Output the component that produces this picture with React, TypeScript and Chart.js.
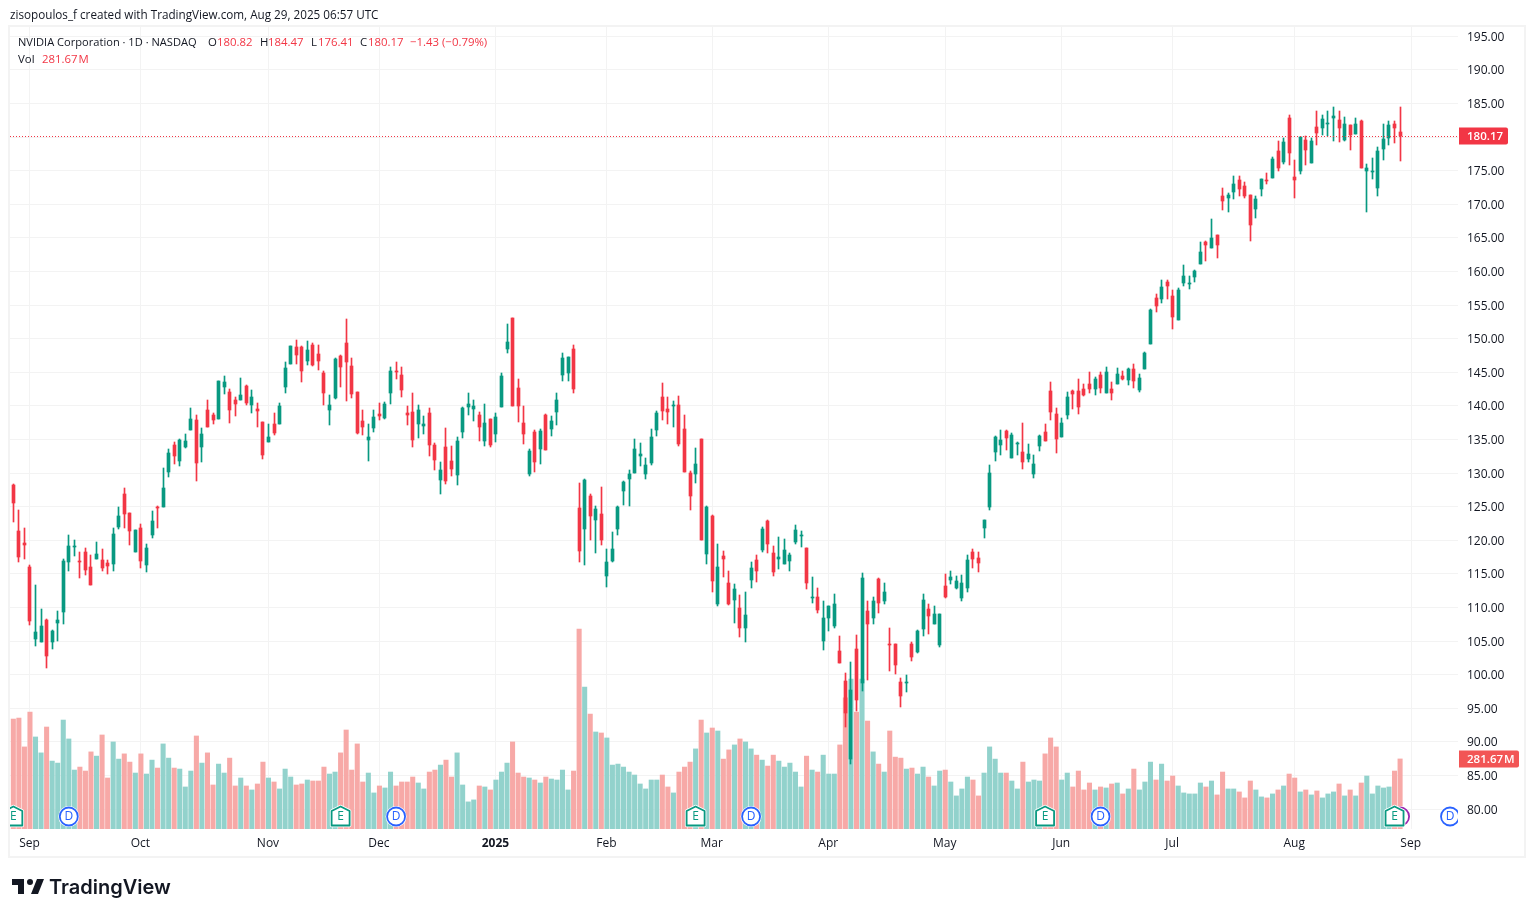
import React, { useEffect, useRef } from 'react';
import { Chart, registerables } from 'chart.js';

Chart.register(...registerables);

// NVDA daily candles, Aug 28 2024 -> Aug 28 2025
const opens = [
  128.22,121.38,119.59,116.02,105.31,104.86,108.13,104.86,107.69,109.33,
  116.77,119.0,116.92,118.25,116.02,117.21,117.06,116.62,116.47,121.97,
  126.88,124.06,118.25,121.83,116.32,120.78,124.95,124.95,130.16,134.18,
  131.80,133.88,136.41,137.90,133.88,139.38,138.64,138.04,142.81,142.06,
  140.87,140.87,142.96,140.13,139.53,137.60,134.62,137.30,137.30,142.81,
  146.23,148.76,148.76,146.68,149.06,147.72,144.90,139.39,141.18,147.43,
  149.36,145.94,142.07,137.75,134.93,136.71,138.80,138.20,141.92,145.19,
  144.60,138.94,139.09,137.31,137.01,138.94,134.18,128.97,133.88,131.80,
  129.72,136.12,139.84,139.54,138.65,134.78,138.05,135.82,139.84,148.47,
  153.08,142.66,137.46,129.87,136.12,133.59,138.65,136.56,139.09,144.60,
  144.90,148.47,124.80,121.68,126.59,123.02,123.91,114.69,116.92,121.68,
  127.33,129.12,130.01,132.54,129.86,131.50,136.41,141.32,139.54,139.98,
  140.13,136.56,130.01,129.86,135.07,117.97,123.62,110.52,117.66,113.65,
  111.12,109.92,106.95,114.09,117.07,118.56,122.87,118.11,117.21,116.47,
  116.92,119.75,120.64,118.85,111.41,111.56,105.02,108.44,107.25,103.53,
  99.06,87.46,103.82,98.77,109.48,108.44,114.24,110.97,104.57,104.57,
  98.92,98.77,104.57,103.38,106.80,109.78,107.54,104.42,113.20,114.09,
  112.90,111.41,112.90,118.26,117.36,121.83,124.95,133.14,134.18,136.27,
  132.25,134.33,133.14,132.10,129.86,134.03,136.11,142.22,138.79,135.37,
  138.64,142.22,142.22,142.51,143.26,142.51,144.60,141.92,142.51,143.26,
  144.45,143.85,145.49,142.36,145.49,149.21,156.06,155.91,158.44,156.35,
  152.78,158.29,158.14,159.18,161.12,164.39,163.50,165.43,171.23,170.94,
  171.83,173.62,172.72,171.38,169.30,172.28,173.62,173.91,177.93,176.29,
  182.84,174.06,174.95,179.57,176.15,181.50,181.35,181.95,182.84,182.54,
  179.57,181.80,180.46,182.40,174.95,174.81,172.43,178.23,179.87,181.95,
  180.82,
];
const closes = [
  125.55,117.51,119.30,107.99,106.35,107.24,102.78,106.50,108.13,116.92,
  119.15,119.15,116.77,115.58,113.34,117.96,115.87,116.17,120.93,123.61,
  123.91,121.38,121.53,116.92,118.85,122.87,124.80,127.78,132.99,132.54,
  134.92,134.77,138.04,131.50,135.81,136.85,137.90,143.70,143.55,139.38,
  140.28,141.62,140.43,141.32,139.24,132.69,135.37,135.96,139.98,145.64,
  148.91,147.57,145.19,148.32,146.09,146.68,141.92,140.13,146.98,145.79,
  146.53,141.77,135.97,136.86,135.37,138.35,138.50,140.28,145.19,145.04,
  142.37,138.65,134.93,139.39,137.31,134.18,131.95,130.46,128.82,130.61,
  134.78,139.69,140.28,139.98,136.86,137.46,134.18,138.35,144.45,149.51,
  139.98,139.98,135.82,133.29,131.65,136.26,133.44,137.75,140.88,147.13,
  147.28,142.51,118.41,128.97,123.61,124.66,120.04,116.77,118.70,124.95,
  128.67,129.86,133.58,132.84,131.20,135.37,138.94,139.24,139.09,140.13,
  134.33,130.16,126.59,131.35,120.04,124.95,113.94,116.03,117.21,110.52,
  112.75,106.95,108.88,115.88,115.43,121.68,119.45,115.28,117.51,118.56,
  117.81,121.53,120.79,113.65,111.56,109.63,108.44,110.23,110.52,101.74,
  94.30,97.73,96.24,114.39,107.54,110.97,110.67,112.31,104.42,101.44,
  96.83,98.92,102.63,106.50,111.12,108.74,109.03,109.03,111.56,114.54,
  113.94,113.65,117.07,117.21,116.62,123.02,130.01,135.37,134.93,135.22,
  135.67,134.48,131.65,132.84,131.35,135.52,134.78,139.09,135.07,137.45,
  141.32,141.77,139.83,141.62,142.51,144.0,142.66,145.04,141.92,144.74,
  144.0,145.49,143.70,144.15,147.87,154.27,154.87,157.69,157.84,153.23,
  157.25,159.33,158.29,160.07,162.90,163.94,164.98,163.94,170.49,171.38,
  173.02,172.28,171.23,166.92,170.79,173.76,173.47,176.74,175.40,179.27,
  177.63,173.62,180.01,178.08,179.42,180.61,182.69,182.10,183.14,181.35,
  181.95,180.31,181.95,175.40,175.40,174.95,177.93,179.72,181.80,181.35,
  180.17,
];
const highs = [
  128.37,124.50,121.83,116.32,113.34,109.77,108.28,106.65,109.48,117.21,
  120.78,120.04,118.25,118.85,117.81,119.74,118.70,117.06,121.83,124.95,
  127.78,124.06,121.53,122.42,119.44,124.36,125.10,130.75,133.58,134.62,
  135.07,135.81,139.68,138.64,136.71,140.87,138.94,143.70,144.44,142.51,
  141.32,144.15,143.10,142.36,140.43,137.60,137.30,138.94,140.43,146.53,
  148.91,149.81,148.91,149.66,149.36,149.06,145.19,141.62,147.13,147.57,
  152.93,147.13,142.07,139.39,137.31,139.39,140.43,140.58,145.79,146.53,
  145.79,139.98,141.92,140.13,138.50,139.69,134.48,131.65,136.71,134.03,
  135.37,139.84,141.92,140.88,139.09,140.28,138.05,138.94,144.90,152.19,
  153.08,144.0,139.98,133.59,136.41,136.56,138.80,138.50,141.92,147.87,
  147.28,149.06,128.53,129.12,126.89,125.10,127.93,118.70,121.23,125.10,
  128.82,130.46,135.07,134.48,132.24,136.56,139.24,143.41,141.32,140.73,
  141.47,138.64,130.31,133.73,135.07,125.10,123.76,119.45,118.41,115.43,
  113.50,111.86,112.31,116.77,117.81,121.98,123.02,119.15,120.49,120.19,
  118.11,122.28,121.38,118.85,114.54,112.90,110.97,110.23,112.01,105.76,
  100.26,101.89,105.91,115.13,110.97,111.56,114.39,113.65,106.95,104.57,
  99.51,99.96,104.87,106.65,112.01,110.52,110.23,109.03,114.98,115.43,
  114.69,114.83,117.81,118.70,118.26,123.02,131.20,135.52,136.41,136.41,
  135.97,134.63,137.45,134.33,132.69,135.67,137.31,143.55,139.69,138.20,
  142.07,142.36,144.0,143.26,145.04,144.30,145.04,145.80,143.55,145.64,
  145.19,145.64,146.23,144.75,148.02,154.42,156.65,158.73,158.73,157.25,
  157.54,160.97,159.33,160.22,164.39,164.54,167.81,165.43,172.43,171.68,
  174.21,174.21,173.32,171.38,171.23,173.76,174.66,177.04,179.42,179.87,
  183.29,176.59,180.01,180.16,179.87,183.88,183.29,183.88,184.48,183.88,
  182.99,181.80,182.84,182.54,175.99,176.89,178.53,181.95,182.40,182.40,
  184.47,
];
const lows = [
  122.72,116.77,117.21,107.39,104.27,104.86,101.0,103.82,105.01,107.54,
  115.43,117.66,114.39,114.83,113.34,117.21,115.43,114.98,115.43,121.68,
  121.83,119.30,118.25,115.87,115.28,120.34,121.83,124.95,129.41,131.35,
  131.05,133.73,136.41,128.82,131.65,136.85,137.30,138.04,141.76,137.45,
  138.49,140.87,140.13,138.94,136.85,132.09,134.62,135.66,137.30,141.92,
  146.23,146.23,143.56,146.09,145.94,145.34,140.13,137.16,141.03,142.81,
  140.73,141.18,135.82,135.67,131.80,136.12,137.90,138.05,140.28,144.0,
  141.32,137.16,133.88,135.22,135.82,132.54,130.46,126.89,128.38,129.57,
  128.23,135.22,138.65,137.75,134.78,134.03,133.88,134.63,139.84,147.87,
  139.98,137.60,134.33,129.57,130.16,131.35,133.44,135.52,137.16,143.71,
  143.71,141.92,116.77,116.32,120.04,118.11,119.30,113.05,116.77,120.79,
  125.25,125.10,130.01,131.05,129.12,131.20,135.52,137.90,137.30,136.86,
  134.03,130.16,124.51,128.53,120.04,116.47,112.31,110.23,114.54,110.38,
  107.69,105.61,104.86,112.90,113.79,118.26,118.11,114.69,115.73,116.47,
  115.43,119.45,119.0,112.75,110.67,109.18,103.68,106.50,106.95,101.74,
  92.22,86.71,94.60,97.58,99.21,107.54,109.18,110.52,100.55,100.10,
  95.20,97.43,102.04,103.23,105.76,106.06,107.54,104.12,111.41,113.50,
  112.75,110.97,112.31,115.88,115.28,120.34,124.51,131.80,132.69,133.44,
  132.25,132.69,130.61,131.65,129.27,133.29,134.78,137.90,133.0,135.37,
  138.05,139.54,138.79,141.47,141.92,141.62,141.92,141.92,140.88,143.26,
  143.85,143.11,142.66,142.07,145.49,149.21,153.97,155.31,155.91,151.44,
  152.78,157.84,157.39,158.44,161.12,161.56,163.50,162.01,169.15,168.85,
  170.79,171.23,170.94,164.54,167.96,171.23,173.02,173.91,174.95,176.0,
  175.85,170.94,174.51,175.85,176.15,178.82,180.31,180.16,179.42,179.27,
  179.42,178.08,180.46,175.40,168.85,173.76,171.23,176.59,178.82,179.12,
  176.41,
];
// volume in millions
const volumes = [
  442,446,330,470,370,306,410,273,265,438,
  362,237,249,233,310,293,378,205,350,281,
  302,269,225,302,221,277,245,342,285,245,
  241,169,233,374,265,306,177,261,225,285,
  173,205,173,157,181,269,205,189,161,241,
  209,177,181,197,193,193,249,221,229,306,
  398,237,342,189,225,145,173,165,229,173,
  189,189,209,185,161,229,237,257,277,209,
  306,177,109,117,173,169,157,197,229,265,
  350,225,209,205,197,185,209,201,197,237,
  157,233,804,571,462,390,386,366,257,261,
  249,229,217,181,161,197,197,217,169,145,
  229,249,269,322,438,386,406,394,281,318,
  338,362,350,322,297,277,253,297,273,249,
  265,229,169,293,237,229,297,221,221,338,
  527,603,470,603,434,310,261,229,394,289,
  285,241,245,221,249,209,173,233,237,189,
  133,161,209,197,133,225,330,281,225,225,
  193,161,269,189,197,193,302,366,330,197,
  225,169,233,157,185,157,169,165,181,185,
  141,161,241,157,189,269,197,261,193,213,
  173,145,141,141,185,169,193,137,229,161,
  161,149,125,193,157,129,125,141,157,173,
  221,205,149,157,137,153,125,141,149,181,
  133,157,133,185,213,141,173,165,169,233,
  281.67,
];

// bar index -> month label on the time axis
const monthTicks = [3, 23, 46, 66, 87, 107, 126, 147, 168, 189, 209, 231, 252];
const monthLabels = ['Sep', 'Oct', 'Nov', 'Dec', '2025', 'Feb', 'Mar', 'Apr', 'May', 'Jun', 'Jul', 'Aug', 'Sep'];
const priceTicks = [80, 85, 90, 95, 100, 105, 110, 115, 120, 125, 130, 135, 140, 145, 150, 155, 160, 165, 170, 175, 180, 185, 190, 195];

// event markers sitting on the bottom of the pane
const earningsBars = [0, 59, 123, 186, 249];
const dividendBars = [10, 69, 133, 196, 259];
const splitBars = [250];

const UP = '#089981';
const DOWN = '#F23645';
const UP_VOL = '#92D2CC';
const DOWN_VOL = '#F7A9A7';
const TEXT = '#131722';
const GRID = '#F3F3F3';
const FONT = '"Open Sans", "Noto Sans", sans-serif';

const lastClose = closes[closes.length - 1];
const lastVolume = volumes[volumes.length - 1];

const idx = opens.map((_, i) => i);
const isUp = (i: number) => closes[i] >= opens[i];

function drawCircleMarker(ctx: CanvasRenderingContext2D, x: number, y: number, color: string, letter: string) {
  ctx.beginPath();
  ctx.arc(x, y, 10.5, 0, Math.PI * 2);
  ctx.fillStyle = '#fff';
  ctx.fill();
  ctx.beginPath();
  ctx.arc(x, y, 9, 0, Math.PI * 2);
  ctx.lineWidth = 1.8;
  ctx.strokeStyle = color;
  ctx.stroke();
  if (letter) {
    ctx.fillStyle = color;
    ctx.font = `12px ${FONT}`;
    ctx.textAlign = 'center';
    ctx.textBaseline = 'middle';
    ctx.fillText(letter, x, y + 0.5);
  }
}

function drawEarningsMarker(ctx: CanvasRenderingContext2D, x: number, y: number) {
  const house = () => {
    ctx.beginPath();
    ctx.moveTo(x, y - 10);
    ctx.lineTo(x + 9, y - 5.5);
    ctx.lineTo(x + 9, y + 9);
    ctx.lineTo(x - 9, y + 9);
    ctx.lineTo(x - 9, y - 5.5);
    ctx.closePath();
  };
  ctx.lineJoin = 'round';
  house();
  ctx.lineWidth = 3.5;
  ctx.strokeStyle = '#fff';
  ctx.stroke();
  ctx.fillStyle = '#fff';
  ctx.fill();
  house();
  ctx.lineWidth = 1.8;
  ctx.strokeStyle = UP;
  ctx.stroke();
  ctx.fillStyle = UP;
  ctx.font = `12px ${FONT}`;
  ctx.textAlign = 'center';
  ctx.textBaseline = 'middle';
  ctx.fillText('E', x, y + 0.5);
}

// snap candle bars to whole pixels so wicks and bodies stay crisp
const crispCandles = {
  id: 'crispCandles',
  afterDatasetsUpdate(chart: any) {
    [0, 1].forEach((datasetIndex) => {
      chart.getDatasetMeta(datasetIndex).data.forEach((bar: any) => {
        const top = Math.round(Math.min(bar.y, bar.base));
        const bottom = Math.round(Math.max(bar.y, bar.base));
        bar.x = Math.floor(bar.x) + 0.5;
        bar.y = top;
        bar.base = bottom === top ? top + 1 : bottom;
      });
    });
  },
};

// frame, price line, event markers and the two last-value tags
const tvOverlay = {
  id: 'tvOverlay',
  beforeDraw(chart: any) {
    const { ctx, chartArea } = chart;
    ctx.save();
    ctx.fillStyle = '#fff';
    ctx.fillRect(0, 0, chart.width, chart.height);
    ctx.strokeStyle = '#F3F3F3';
    ctx.lineWidth = 2;
    ctx.strokeRect(chartArea.left - 1, chartArea.top - 1, 1524 - chartArea.left + 2, 857 - chartArea.top + 1);
    ctx.restore();
  },
  afterDatasetsDraw(chart: any) {
    const { ctx, chartArea, scales } = chart;
    const yLast = Math.round(scales.y.getPixelForValue(lastClose)) + 0.5;
    ctx.save();
    ctx.beginPath();
    ctx.rect(chartArea.left, chartArea.top, chartArea.right - chartArea.left, chartArea.bottom - chartArea.top);
    ctx.clip();
    ctx.beginPath();
    ctx.setLineDash([1, 2]);
    ctx.strokeStyle = DOWN;
    ctx.lineWidth = 1;
    ctx.moveTo(chartArea.left, yLast);
    ctx.lineTo(chartArea.right, yLast);
    ctx.stroke();
    ctx.setLineDash([]);
    const markerY = 816.5;
    splitBars.forEach((b) => drawCircleMarker(ctx, scales.x.getPixelForValue(b), markerY, '#9C27B0', ''));
    dividendBars.forEach((b) => drawCircleMarker(ctx, scales.x.getPixelForValue(b), markerY, '#2962FF', 'D'));
    earningsBars.forEach((b) => drawEarningsMarker(ctx, scales.x.getPixelForValue(b), markerY));
    ctx.restore();
  },
  afterDraw(chart: any) {
    const { ctx, chartArea, scales } = chart;
    const tag = (text: string, y: number, w: number, color: string) => {
      const x = chartArea.right + 1;
      ctx.fillStyle = color;
      ctx.beginPath();
      ctx.roundRect(x, y - 8.5, w, 17, [0, 2, 2, 0]);
      ctx.fill();
      ctx.fillStyle = '#fff';
      ctx.font = `600 11.5px ${FONT}`;
      ctx.wordSpacing = '-2px';
      ctx.textAlign = 'left';
      ctx.textBaseline = 'middle';
      ctx.fillText(text, x + 8, y + 0.5);
    };
    ctx.save();
    tag(lastClose.toFixed(2), scales.y.getPixelForValue(lastClose), 49, DOWN);
    tag(`${lastVolume.toFixed(2)} M`, scales.vol.getPixelForValue(lastVolume), 60, '#F25555');
    ctx.restore();
  },
};

const legendRow1 = [
  { x: 18, text: 'NVIDIA Corporation · 1D · NASDAQ', color: TEXT, size: 11.1 },
  { x: 208, text: 'O', color: TEXT, size: 11.4 },
  { x: 217, text: opens[250].toFixed(2), color: DOWN, size: 11.4 },
  { x: 260, text: 'H', color: TEXT, size: 11.4 },
  { x: 268, text: highs[250].toFixed(2), color: DOWN, size: 11.4 },
  { x: 311, text: 'L', color: TEXT, size: 11.4 },
  { x: 318, text: lows[250].toFixed(2), color: DOWN, size: 11.4 },
  { x: 360, text: 'C', color: TEXT, size: 11.4 },
  { x: 368, text: closes[250].toFixed(2), color: DOWN, size: 11.4 },
  { x: 410, text: '−1.43 (−0.79%)', color: DOWN, size: 11.4 },
];
const legendRow2 = [
  { x: 18, text: 'Vol', color: TEXT },
  { x: 42, text: '281.67 M', color: DOWN },
];

function Label({ x, y, color, size = 12, weight = 400, family = FONT, spacing = 0, children }: any) {
  return (
    <span
      style={{
        position: 'absolute',
        left: x,
        top: y,
        color,
        fontSize: size,
        fontWeight: weight,
        fontFamily: family,
        wordSpacing: spacing,
        lineHeight: '16px',
        whiteSpace: 'nowrap',
      }}
    >
      {children}
    </span>
  );
}

export default function App() {
  const canvasRef = useRef<HTMLCanvasElement>(null);

  useEffect(() => {
    if (!canvasRef.current) return;

    const chart = new Chart(canvasRef.current, {
      type: 'bar',
      data: {
        datasets: [
          {
            label: 'Body',
            data: idx.map((i) => ({ x: i, y: [opens[i], closes[i]] })),
            backgroundColor: idx.map((i) => (isUp(i) ? UP : DOWN)),
            barThickness: 3,
            grouped: false,
            yAxisID: 'y',
            order: 1,
          },
          {
            label: 'Wick',
            data: idx.map((i) => ({ x: i, y: [lows[i], highs[i]] })),
            backgroundColor: idx.map((i) => (isUp(i) ? UP : DOWN)),
            barThickness: 1,
            grouped: false,
            yAxisID: 'y',
            order: 2,
          },
          {
            label: 'Vol',
            data: idx.map((i) => ({ x: i, y: volumes[i] })),
            backgroundColor: idx.map((i) => (isUp(i) ? UP_VOL : DOWN_VOL)),
            barThickness: 4.4,
            grouped: false,
            yAxisID: 'vol',
            order: 3,
          },
        ],
      } as any,
      options: {
        responsive: false,
        animation: false,
        events: [],
        layout: { padding: { left: 10, top: 27, right: 10, bottom: 60 } },
        plugins: {
          legend: { display: false },
          tooltip: { enabled: false },
        },
        scales: {
          x: {
            type: 'linear',
            position: 'bottom',
            offset: false,
            min: -0.6,
            max: 260.44,
            afterFit: (scale: any) => {
              scale.height = 28;
            },
            afterBuildTicks: (scale: any) => {
              scale.ticks = monthTicks.map((value) => ({ value }));
            },
            border: { display: false },
            grid: { color: GRID, offset: false, drawTicks: false },
            ticks: {
              autoSkip: false,
              maxRotation: 0,
              padding: 7,
              labelOffset: -0.5,
              color: TEXT,
              callback: (_value: any, index: number) => monthLabels[index],
              font: (ctx: any) =>
                ctx.index === 4 ? { family: FONT, size: 12, weight: 700 } : { family: FONT, size: 12 },
            },
          },
          y: {
            type: 'linear',
            position: 'right',
            min: 77.04,
            max: 196.38,
            afterFit: (scale: any) => {
              scale.width = 66;
            },
            afterBuildTicks: (scale: any) => {
              scale.ticks = priceTicks.map((value) => ({ value }));
            },
            border: { display: false },
            grid: { color: GRID, drawTicks: false },
            ticks: {
              padding: 9,
              labelOffset: 1,
              crossAlign: 'near',
              color: TEXT,
              font: { family: FONT, size: 12 },
              callback: (value: any) => Number(value).toFixed(2),
            },
          },
          vol: {
            type: 'linear',
            display: false,
            position: 'left',
            min: 0,
            max: 3224,
          },
        },
      } as any,
      plugins: [crispCandles, tvOverlay],
    });

    return () => {
      chart.destroy();
    };
  }, []);

  return (
    <div style={{ position: 'fixed', left: 0, top: 0, width: 1534, height: 917, overflow: 'hidden', background: '#fff' }}>
      <canvas ref={canvasRef} width={1534} height={917} style={{ position: 'absolute', left: 0, top: 0 }} />
      <Label x={10} y={6} color={TEXT} size={11.7}>
        zisopoulos_f created with TradingView.com, Aug 29, 2025 06:57 UTC
      </Label>
      {legendRow1.map((item) => (
        <Label key={item.x} x={item.x} y={34} color={item.color} size={item.size}>
          {item.text}
        </Label>
      ))}
      {legendRow2.map((item) => (
        <Label key={item.x} x={item.x} y={51} color={item.color} size={11.4} spacing={-2}>
          {item.text}
        </Label>
      ))}
      <svg width={36} height={28} viewBox="0 0 36 28" style={{ position: 'absolute', left: 10, top: 873 }}>
        <path fill="#131722" d="M14 6H2v6h6v9h6V6zm14 15h-7l6-15h7l-6 15zm-8-9a3 3 0 1 0 0-6 3 3 0 0 0 0 6z" />
      </svg>
      <Label x={49} y={879} color="#131722" size={20} weight={600} family="Inter, sans-serif">
        TradingView
      </Label>
    </div>
  );
}
